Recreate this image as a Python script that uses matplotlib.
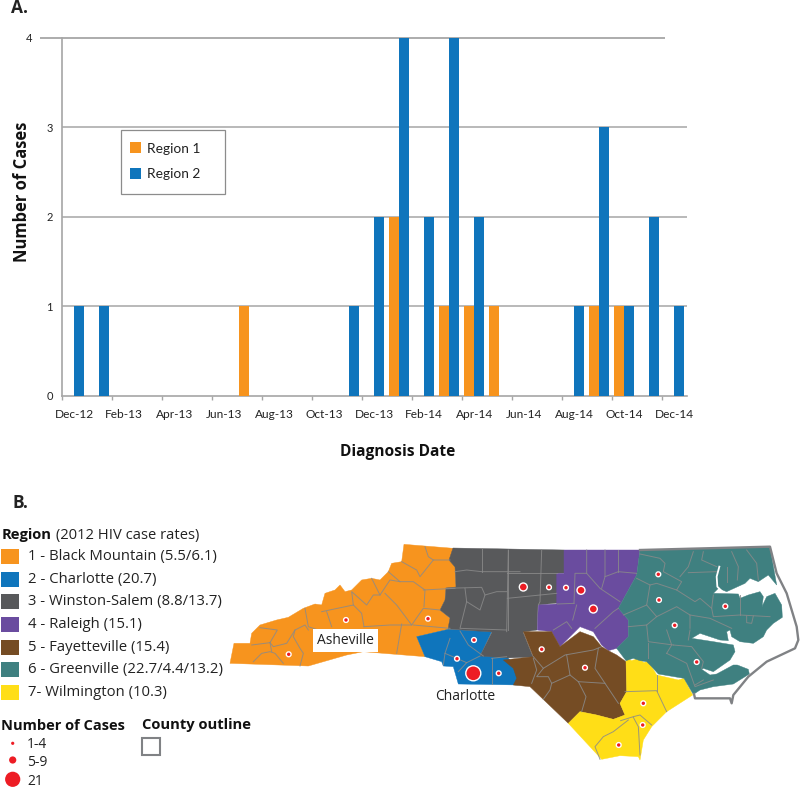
"""Two panel figure: monthly case counts (A) and North Carolina region map (B)."""

import matplotlib
matplotlib.use("Agg")
import matplotlib.pyplot as plt
from matplotlib.patches import Circle, Polygon, Rectangle

W, H = 800, 788
DPI = 100

BODY_FONT = "Open Sans"
AXIS_FONT = "Lato"

ORANGE = "#f7941e"
BLUE = "#0f75bc"
DARK = "#58595b"
PURPLE = "#6a4c9f"
BROWN = "#754c24"
TEAL = "#3f8080"
YELLOW = "#ffde17"
RED = "#ed1c24"
GRID = "#a6a6a6"
COAST = "#808285"

# ---------------------------------------------------------------------------
# Panel A data
# ---------------------------------------------------------------------------
MONTHS = [
    "Dec-12", "Jan-13", "Feb-13", "Mar-13", "Apr-13", "May-13", "Jun-13",
    "Jul-13", "Aug-13", "Sep-13", "Oct-13", "Nov-13", "Dec-13", "Jan-14",
    "Feb-14", "Mar-14", "Apr-14", "May-14", "Jun-14", "Jul-14", "Aug-14",
    "Sep-14", "Oct-14", "Nov-14", "Dec-14",
]
REGION_1 = [0, 0, 0, 0, 0, 0, 0, 1, 0, 0, 0, 0, 0, 2, 0, 1, 1, 1, 0, 0, 0, 1, 1, 0, 0]
REGION_2 = [1, 1, 0, 0, 0, 0, 0, 0, 0, 0, 0, 1, 2, 4, 2, 4, 2, 0, 0, 0, 1, 3, 1, 2, 1]
Y_TICKS = [0, 1, 2, 3, 4]

# ---------------------------------------------------------------------------
# Panel B legend
# ---------------------------------------------------------------------------
REGION_NAMES = [
    "1 - Black Mountain (5.5/6.1)",
    "2 - Charlotte (20.7)",
    "3 - Winston-Salem (8.8/13.7)",
    "4 - Raleigh (15.1)",
    "5 - Fayetteville (15.4)",
    "6 - Greenville (22.7/4.4/13.2)",
    "7- Wilmington (10.3)",
]
REGION_COLORS = [ORANGE, BLUE, DARK, PURPLE, BROWN, TEAL, YELLOW]
CASE_LABELS = ["1-4", "5-9", "21"]

# Map, crop origins below (3x zoom units)
WEST = (220, 530)
EAST = (500, 530)
SOUTH = (500, 640)


def px(points, origin):
    return [(origin[0] + x / 3, origin[1] + y / 3) for x, y in points]


ORANGE_SHAPE = px([
    (30, 400), (42, 340), (90, 340), (95, 310), (120, 285), (170, 270), (205, 262),
    (250, 235), (285, 222), (305, 225), (315, 190), (345, 180), (360, 165), (375, 185),
    (395, 180), (425, 150), (455, 145), (480, 150), (505, 125), (515, 100), (545, 95),
    (552, 43), (700, 55), (688, 90), (705, 110), (708, 172), (678, 175), (675, 210),
    (660, 240), (690, 265), (685, 298), (590, 320), (615, 380), (490, 370), (430, 365),
    (380, 375), (265, 408),
], WEST)
BLUE_SHAPE = px([
    (590, 320), (685, 298), (815, 305), (780, 378), (860, 380), (885, 405), (895, 465),
    (715, 462), (700, 410), (670, 408), (665, 395), (615, 380),
], WEST)
GRAY_SHAPE = [
    (453, 548), (564, 550), (564, 573), (557, 573), (557, 603), (538, 605), (537, 630),
    (523, 632), (533, 657), (507, 658), (480, 656), (492, 632), (448, 629), (450, 618),
    (440, 610), (445, 600), (446, 588), (456, 587), (455, 567), (449, 560),
]
PURPLE_SHAPE = px([
    (192, 60), (420, 60), (410, 135), (355, 235), (385, 270), (385, 320), (350, 355),
    (325, 362), (305, 345), (280, 305), (240, 290), (180, 350), (155, 305), (112, 300),
    (115, 225), (170, 222), (170, 130), (192, 130),
], EAST)
BROWN_SHAPE = px([
    (70, -25), (155, -25), (180, 20), (240, -25), (280, -10), (305, 20), (325, 32),
    (350, 45), (378, 65), (380, 155), (360, 190), (375, 225), (340, 238), (290, 225),
    (240, 215), (205, 250), (90, 140), (40, 135), (50, 115), (40, 85), (10, 60), (100, 50),
], SOUTH)
YELLOW_SHAPE = px([
    (378, 65), (380, 55), (395, 62), (415, 55), (432, 68), (445, 62), (458, 85),
    (470, 105), (535, 120), (552, 115), (578, 165), (500, 215), (455, 260), (430, 300),
    (420, 360), (415, 350), (360, 347), (305, 358), (205, 250), (240, 215), (290, 225),
    (340, 238), (375, 225), (360, 190), (380, 155),
], SOUTH)
TEAL_SHAPE = px([
    (420, 60), (810, 52), (830, 165), (805, 135), (775, 155), (750, 145), (735, 160),
    (680, 185), (655, 175), (640, 190), (715, 192), (720, 205), (745, 195), (780, 185),
    (790, 200), (786, 230), (800, 200), (825, 190), (845, 225), (847, 262), (820, 280),
    (800, 300), (790, 320), (760, 340), (720, 335), (695, 320), (690, 300), (680, 305),
    (685, 332), (660, 330), (600, 310), (575, 325), (640, 335), (700, 345), (705, 365),
    (690, 390), (640, 425), (610, 415), (605, 418), (630, 435), (650, 432), (700, 405),
    (712, 405), (745, 418), (748, 432), (700, 462), (640, 470), (600, 480), (582, 492),
    (578, 490), (552, 445), (475, 432), (455, 410), (440, 395), (420, 392), (400, 385),
    (378, 392), (350, 355), (385, 320), (385, 270), (355, 235), (410, 135),
], EAST)
COAST_LINES = [
    px([(420, 60), (810, 50), (830, 130), (860, 190), (890, 290), (895, 330), (885, 355),
        (800, 395), (745, 440), (700, 495), (695, 520), (690, 505), (585, 505), (582, 492)], EAST),
]
SOUND_SLIVERS = [
    px([(658, 110), (650, 140), (652, 170), (665, 183)], EAST),
]

COUNTY_LINES = [px(seg, WEST) for seg in [
    [(95, 345), (150, 338), (172, 300), (120, 293)],
    [(150, 338), (160, 350), (200, 340), (225, 300), (255, 285), (265, 300)],
    [(100, 395), (125, 370), (150, 365), (165, 370), (190, 400)],
    [(150, 338), (155, 365)],
    [(225, 300), (220, 320), (240, 355), (250, 370), (240, 408)],
    [(255, 235), (265, 290), (295, 300)],
    [(305, 245), (400, 225), (425, 250), (432, 290)],
    [(320, 245), (335, 290)],
    [(400, 225), (395, 185), (440, 225), (460, 195), (480, 195)],
    [(455, 145), (480, 195), (510, 150), (540, 155), (580, 155), (615, 180), (612, 230)],
    [(432, 290), (510, 285), (575, 285)],
    [(495, 190), (530, 225), (575, 285), (610, 235), (660, 240)],
    [(580, 285), (690, 295)],
    [(545, 282), (530, 370)],
    [(505, 125), (540, 155)],
    [(545, 95), (590, 120), (600, 140), (640, 90), (690, 90)],
    [(615, 50), (625, 80), (640, 90)],
    [(610, 180), (705, 175)],
    # Charlotte
    [(690, 325), (675, 370), (670, 405)],
    [(720, 303), (745, 345), (790, 378)],
    [(675, 370), (710, 385), (740, 398), (780, 378)],
    [(740, 398), (715, 425)],
    [(815, 385), (815, 462)],
    [(815, 385), (860, 380)],
    # Winston-Salem
    [(705, 125), (740, 120), (785, 125), (900, 125)],
    [(785, 55), (785, 125)],
    [(865, 60), (865, 300)],
    [(735, 175), (740, 215), (720, 295), (860, 300)],
    [(678, 175), (785, 172), (795, 195), (780, 240), (740, 215)],
    [(795, 195), (830, 185), (860, 185)],
]]
COUNTY_LINES += [px(seg, EAST) for seg in [
    # Winston-Salem
    [(25, 60), (22, 205), (20, 305)],
    [(125, 60), (120, 215), (115, 225)],
    [(22, 130), (170, 130)],
    [(22, 205), (170, 190)],
    # Raleigh
    [(260, 60), (260, 130), (225, 130), (222, 220)],
    [(315, 60), (315, 140), (355, 125), (410, 130)],
    [(355, 60), (355, 125)],
    [(260, 130), (300, 175), (360, 215)],
    [(222, 220), (172, 222)],
    [(230, 225), (218, 270)],
    [(160, 300), (200, 275), (215, 295)],
    [(285, 295), (340, 245), (355, 235)],
    [(305, 175), (315, 140)],
    # Greenville
    [(420, 72), (480, 85), (495, 100), (490, 125), (545, 155), (530, 180), (470, 160),
     (450, 165), (410, 145)],
    [(580, 65), (565, 110), (540, 140)],
    [(565, 128), (650, 125)],
    [(610, 65), (605, 90), (650, 110)],
    [(695, 65), (715, 110), (712, 150)],
    [(680, 110), (680, 155)],
    [(740, 60), (770, 100), (775, 150)],
    [(450, 165), (440, 225), (370, 255)],
    [(440, 225), (470, 260), (490, 250), (530, 230), (570, 255), (570, 295)],
    [(530, 180), (585, 215), (600, 205), (635, 235), (640, 195)],
    [(635, 235), (640, 260), (720, 255), (810, 260)],
    [(720, 195), (720, 255)],
    [(740, 258), (740, 278), (755, 280), (760, 258)],
    [(570, 255), (630, 265), (695, 295)],
    [(385, 290), (440, 285), (445, 335), (520, 345)],
    [(440, 285), (470, 260)],
    [(500, 300), (515, 345), (500, 370)],
    [(445, 340), (445, 385)],
    [(500, 370), (560, 400), (585, 470), (640, 450)],
    [(520, 345), (575, 350), (610, 395), (605, 415)],
    [(570, 300), (565, 330)],
    [(585, 465), (610, 450)],
]]
COUNTY_LINES += [px(seg, SOUTH) for seg in [
    # Fayetteville
    [(100, 55), (110, 90), (95, 130)],
    [(100, 50), (130, 85), (195, 45), (280, 30), (305, 20)],
    [(130, 85), (110, 110), (145, 110), (155, 130), (210, 105), (200, 45)],
    [(210, 105), (235, 125), (315, 130), (285, 85), (295, 25)],
    [(235, 125), (258, 170), (245, 215)],
    [(315, 130), (355, 190)],
    [(155, 130), (150, 150), (130, 178)],
    # Wilmington
    [(375, 155), (470, 152), (500, 215)],
    [(470, 105), (470, 152)],
    [(362, 242), (400, 230), (420, 225), (455, 255)],
    [(385, 240), (340, 275), (310, 290), (285, 320), (300, 358)],
    [(400, 232), (415, 260), (420, 345)],
]]

# Case dots: centre and size class (0 small, 1 medium, 2 large)
DOT_X = [288.7, 346, 428, 474, 457, 473.3, 498.7, 523.3, 549, 566, 581, 593.3,
         541.7, 585, 658.3, 659, 674.7, 725.3, 696.7, 643.3, 642.7, 618.7]
DOT_Y = [654.3, 620, 618.7, 640, 658.7, 673.3, 673.3, 587, 587.3, 587.7, 590.3, 609,
         649.3, 667.7, 574.3, 600, 625.3, 606.3, 662, 703.3, 725, 745]
DOT_CLASS = [0, 0, 0, 0, 0, 2, 0, 1, 0, 0, 1, 1, 0, 0, 0, 0, 0, 0, 0, 0, 0, 0]
DOT_RADIUS = [2.4, 4.0, 7.5]


def frac_x(x):
    return x / W


def frac_y(y):
    return 1 - y / H


def draw_bars(fig):
    x0, x1, y_top, y_bot = 61.7, 686.7, 37.7, 395.5
    ax = fig.add_axes([frac_x(x0), frac_y(y_bot), frac_x(x1 - x0), (y_bot - y_top) / H])
    idx = list(range(len(MONTHS)))
    ax.bar([i + 0.295 for i in idx], REGION_1, width=0.4, color=ORANGE, zorder=3, label="Region 1")
    ax.bar([i + 0.695 for i in idx], REGION_2, width=0.4, color=BLUE, zorder=3, label="Region 2")

    ax.set_xlim(0, len(MONTHS))
    ax.set_ylim(0, 4)
    ax.hlines(Y_TICKS[1:-1], 0, len(MONTHS), color=GRID, lw=1.1, zorder=1)
    # top rule is offset in the original
    ax.hlines(4, (40 - x0) / 25, (665.3 - x0) / 25, color=GRID, lw=1.3, zorder=1, clip_on=False)

    for side in ("top", "right"):
        ax.spines[side].set_visible(False)
    for side in ("left", "bottom"):
        ax.spines[side].set_color(GRID)
        ax.spines[side].set_linewidth(1.2)

    ax.set_yticks(Y_TICKS)
    ax.tick_params(axis="y", length=0, pad=6.5, labelsize=8, colors="#222222")
    ax.yaxis.get_major_ticks()[-1].set_pad(21)  # the 4 sits left of the stub
    for lab in ax.get_yticklabels():
        lab.set_family(AXIS_FONT)

    ax.set_xticks(idx[::2])
    ax.set_xticklabels([])
    ax.set_xticks([i + 0.5 for i in idx[::2]], MONTHS[::2], minor=True)
    ax.tick_params(axis="x", which="major", length=3.2, width=1, color=GRID)
    ax.tick_params(axis="x", which="minor", length=0, pad=10, labelsize=8.6, colors="#222222")
    for lab in ax.get_xticklabels(minor=True):
        lab.set_family(AXIS_FONT)

    leg = ax.legend(
        loc="upper left", bbox_to_anchor=((130 - x0) / (x1 - x0), 1 - (142.5 - y_top) / (y_bot - y_top)),
        frameon=False, borderaxespad=0, borderpad=0,
        handlelength=0.8, handleheight=0.8, handletextpad=0.45, labelspacing=0.98,
        prop={"family": AXIS_FONT, "size": 9.9},
    )
    leg.set_zorder(5)
    for t in leg.get_texts():
        t.set_color("#222222")


def draw_map(ov):
    shapes = [
        (ORANGE_SHAPE, ORANGE), (BLUE_SHAPE, BLUE), (GRAY_SHAPE, DARK), (PURPLE_SHAPE, PURPLE),
        (BROWN_SHAPE, BROWN), (YELLOW_SHAPE, YELLOW), (TEAL_SHAPE, TEAL),
    ]
    for pts, col in shapes:
        ov.add_patch(Polygon(pts, closed=True, facecolor=col, edgecolor=col, lw=0.3, zorder=2))
    for seg in COUNTY_LINES:
        xs, ys = zip(*seg)
        ov.plot(xs, ys, color="#8a8a8a", lw=0.7, alpha=0.85, zorder=3, solid_joinstyle="round")
    for seg in SOUND_SLIVERS:
        xs, ys = zip(*seg)
        ov.plot(xs, ys, color="white", lw=1.3, zorder=4)
    for seg in COAST_LINES:
        xs, ys = zip(*seg)
        ov.plot(xs, ys, color=COAST, lw=1.7, zorder=4, solid_joinstyle="round")
    for x, y, c in zip(DOT_X, DOT_Y, DOT_CLASS):
        ov.add_patch(Circle((x, y), DOT_RADIUS[c], facecolor=RED, edgecolor="white", lw=1.0, zorder=6))

    ov.text(345.8, 640.5, "Asheville", fontsize=10, family=BODY_FONT, ha="center", va="center", color="#222222",
            zorder=7, bbox=dict(boxstyle="square,pad=0.28", facecolor="white", edgecolor="none"))
    ov.text(465, 696.5, "Charlotte", fontsize=10, family=BODY_FONT, ha="center", va="center", color="#222222",
            zorder=7)


def draw_map_legend(ov):
    head = ov.text(2, 535, "Region", fontsize=10.6, weight="bold", family=BODY_FONT, va="center", color="#111111")
    ov.annotate(" (2012 HIV case rates)", xy=(1, 0.5), xycoords=head, va="center", fontsize=10.6,
                family=BODY_FONT, color="#222222")

    for i, (name, col) in enumerate(zip(REGION_NAMES, REGION_COLORS)):
        y = 556.5 + 22.65 * i
        ov.add_patch(Rectangle((1, y - 7.5), 18, 15, facecolor=col, edgecolor="none"))
        ov.text(28, y, name, fontsize=10.7, family=BODY_FONT, va="center", color="#222222")

    ov.text(1, 725.5, "Number of Cases", fontsize=10.5, weight="bold", family=BODY_FONT, va="center", color="#111111")
    ov.text(141.5, 725.5, "County outline", fontsize=10.6, weight="bold", family=BODY_FONT, va="center", color="#111111")
    ov.add_patch(Rectangle((142, 738), 18, 16.5, facecolor="white", edgecolor=COAST, lw=1.5))

    for lab, r, dot_y, txt_y in zip(CASE_LABELS, [1.6, 3.6, 7.6], [743.3, 760, 779.3], [745, 763, 781.7]):
        ov.add_patch(Circle((12.7, dot_y), r, facecolor=RED, edgecolor="none"))
        ov.text(27, txt_y, lab, fontsize=10, family=BODY_FONT, va="center", color="#222222")


def main():
    fig = plt.figure(figsize=(W / DPI, H / DPI), dpi=DPI)
    draw_bars(fig)

    ov = fig.add_axes([0, 0, 1, 1], facecolor="none")
    ov.set_xlim(0, W)
    ov.set_ylim(H, 0)
    ov.axis("off")

    # legend frame for panel A
    ov.add_patch(Rectangle((121.3, 130.3), 104, 63.4, facecolor="none", edgecolor="#8c8c8c", lw=0.9))

    ov.text(11, 7.5, "A.", fontsize=12.5, weight="bold", family=BODY_FONT, va="center", color="#222222")
    ov.text(12.5, 503, "B.", fontsize=12.5, weight="bold", family=BODY_FONT, va="center", color="#222222")
    ov.text(22.5, 192, "Number of Cases", fontsize=11.9, weight="bold", family=BODY_FONT, rotation=90,
            ha="center", va="center", color="#111111")
    ov.text(397.5, 452, "Diagnosis Date", fontsize=11.2, weight="bold", family=BODY_FONT,
            ha="center", va="center", color="#111111")

    draw_map(ov)
    draw_map_legend(ov)

    fig.savefig("out.png", dpi=DPI)
    plt.close(fig)


if __name__ == "__main__":
    main()
